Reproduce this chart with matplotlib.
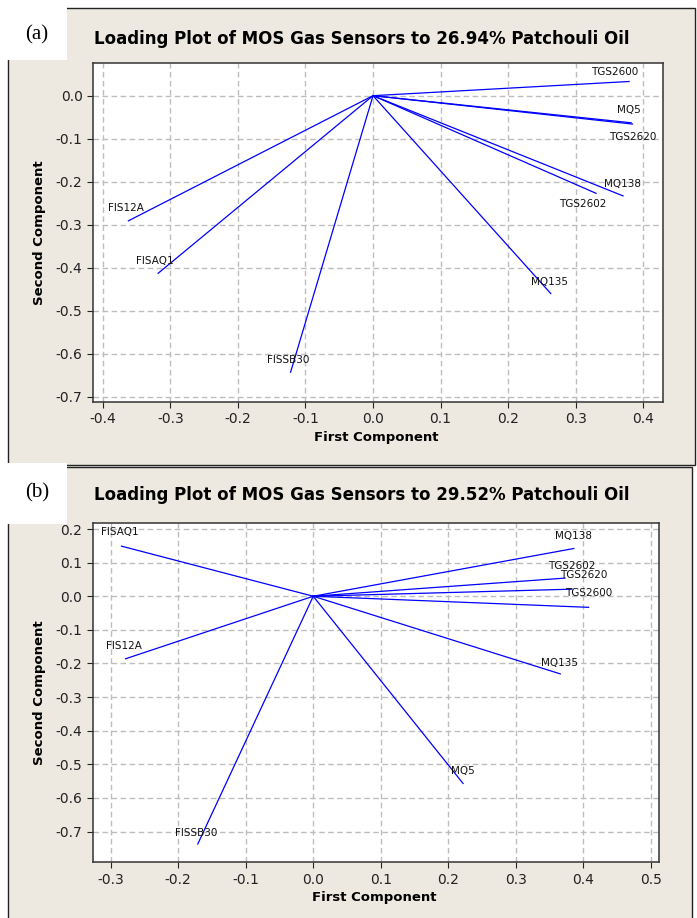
import matplotlib
matplotlib.use("Agg")
import matplotlib.pyplot as plt
from matplotlib.patches import Rectangle

plt.rcParams['axes.unicode_minus'] = False
plt.rcParams['font.family'] = ['DejaVu Sans']

W, H = 697, 918  # figure size in pixels
BEIGE = '#EDE9E0'

# panel (a): 26.94% patchouli oil
sensors_a = ['TGS2600', 'MQ5', 'TGS2620', 'MQ138', 'TGS2602', 'MQ135', 'FIS12A', 'FISAQ1', 'FISSB30']
pc1_a = [0.379, 0.382, 0.384, 0.370, 0.330, 0.263, -0.362, -0.318, -0.122]
pc2_a = [0.033, -0.063, -0.066, -0.233, -0.227, -0.460, -0.291, -0.413, -0.643]
xticks_a = [-0.4, -0.3, -0.2, -0.1, 0.0, 0.1, 0.2, 0.3, 0.4]
yticks_a = [-0.7, -0.6, -0.5, -0.4, -0.3, -0.2, -0.1, 0.0]

# panel (b): 29.52% patchouli oil
sensors_b = ['FISAQ1', 'FIS12A', 'MQ138', 'TGS2602', 'TGS2620', 'TGS2600', 'MQ135', 'MQ5', 'FISSB30']
pc1_b = [-0.284, -0.278, 0.386, 0.373, 0.383, 0.408, 0.366, 0.222, -0.171]
pc2_b = [0.149, -0.186, 0.142, 0.054, 0.021, -0.033, -0.231, -0.557, -0.737]
xticks_b = [-0.3, -0.2, -0.1, 0.0, 0.1, 0.2, 0.3, 0.4, 0.5]
yticks_b = [-0.7, -0.6, -0.5, -0.4, -0.3, -0.2, -0.1, 0.0, 0.1, 0.2]

# label offsets (pixels) from the end of each loading vector
offsets_a = [(-14, 9), (-2, 13), (0, -13), (-1, 12), (-13, -11), (-1, 12), (-2, 13), (-3, 12), (-2, 12)]
offsets_b = [(-2, 14), (-2, 13), (0, 13), (7, 12), (12, 14), (0, 14), (-1, 11), (0, 12), (-2, 11)]


def box(x0, y0, x1, y1):
    # pixel box (top-left origin) -> figure fraction rect
    return [x0 / W, 1 - y1 / H, (x1 - x0) / W, (y1 - y0) / H]


fig = plt.figure(figsize=(W / 100, H / 100), dpi=100)
fig.patch.set_facecolor('white')

# beige panels with dark frame
for (x0, y0, x1, y1) in [(8, 8, 695, 465), (8, 467, 692, 930)]:
    l, b, w, h = box(x0, y0, x1, y1)
    fig.add_artist(Rectangle((l, b), w, h, transform=fig.transFigure,
                             facecolor=BEIGE, edgecolor='#222222', lw=1.0, zorder=-3))
# white tabs holding the panel letters
for (x0, y0, x1, y1) in [(0, 0, 67, 60), (0, 463, 67, 524)]:
    l, b, w, h = box(x0, y0, x1, y1)
    fig.add_artist(Rectangle((l, b), w, h, transform=fig.transFigure,
                             facecolor='white', edgecolor='none', zorder=-2))

fig.text(37 / W, 1 - 35 / H, '(a)', family='Liberation Serif', fontsize=15, ha='center', va='center')
fig.text(37 / W, 1 - 493 / H, '(b)', family='Liberation Serif', fontsize=15, ha='center', va='center')


def loading_plot(rect, pc1, pc2, names, offsets, xticks, yticks, xlim, ylim, title, title_y):
    ax = fig.add_axes(box(*rect))
    ax.set_facecolor('white')
    for x, y in zip(pc1, pc2):
        ax.plot([0, x], [0, y], color='#0000FF', lw=0.9)
    for x, y, name, off in zip(pc1, pc2, names, offsets):
        ax.annotate(name, (x, y), xytext=off, textcoords='offset pixels',
                    ha='center', va='center', fontsize=7.5, color='#111111')
    ax.set_xticks(xticks)
    ax.set_yticks(yticks)
    ax.set_xticklabels([f'{t:.1f}' for t in xticks])
    ax.set_yticklabels([f'{t:.1f}' for t in yticks])
    ax.set_xlim(*xlim)
    ax.set_ylim(*ylim)
    ax.grid(True, color='#BDBDBD', ls=(0, (4, 2.5)), lw=1.0)
    ax.set_axisbelow(True)
    for s in ax.spines.values():
        s.set_color('#333333')
        s.set_linewidth(1.1)
    ax.tick_params(direction='out', length=4.5, width=0.8, pad=3, labelsize=10,
                   colors='#222222')
    ax.set_xlabel('First Component', fontsize=9.5, fontweight='bold')
    ax.set_ylabel('Second Component', fontsize=9.5, fontweight='bold')
    ax.xaxis.set_label_coords(0.497, -0.086)
    ax.yaxis.set_label_coords(-0.082, 0.5)
    fig.text(94 / W, 1 - title_y / H, title, fontsize=12, fontweight='bold',
             ha='left', va='center')
    return ax


loading_plot((93, 63, 662.7, 401.7), pc1_a, pc2_a, sensors_a, offsets_a,
             xticks_a, yticks_a, (-0.4144, 0.4287), (-0.7116, 0.076),
             'Loading Plot of MOS Gas Sensors to 26.94% Patchouli Oil', 39)
loading_plot((92.7, 523.3, 659.3, 862.3), pc1_b, pc2_b, sensors_b, offsets_b,
             xticks_b, yticks_b, (-0.3267, 0.5127), (-0.7915, 0.217),
             'Loading Plot of MOS Gas Sensors to 29.52% Patchouli Oil', 495)

fig.savefig('out.png', dpi=100, facecolor='white')
